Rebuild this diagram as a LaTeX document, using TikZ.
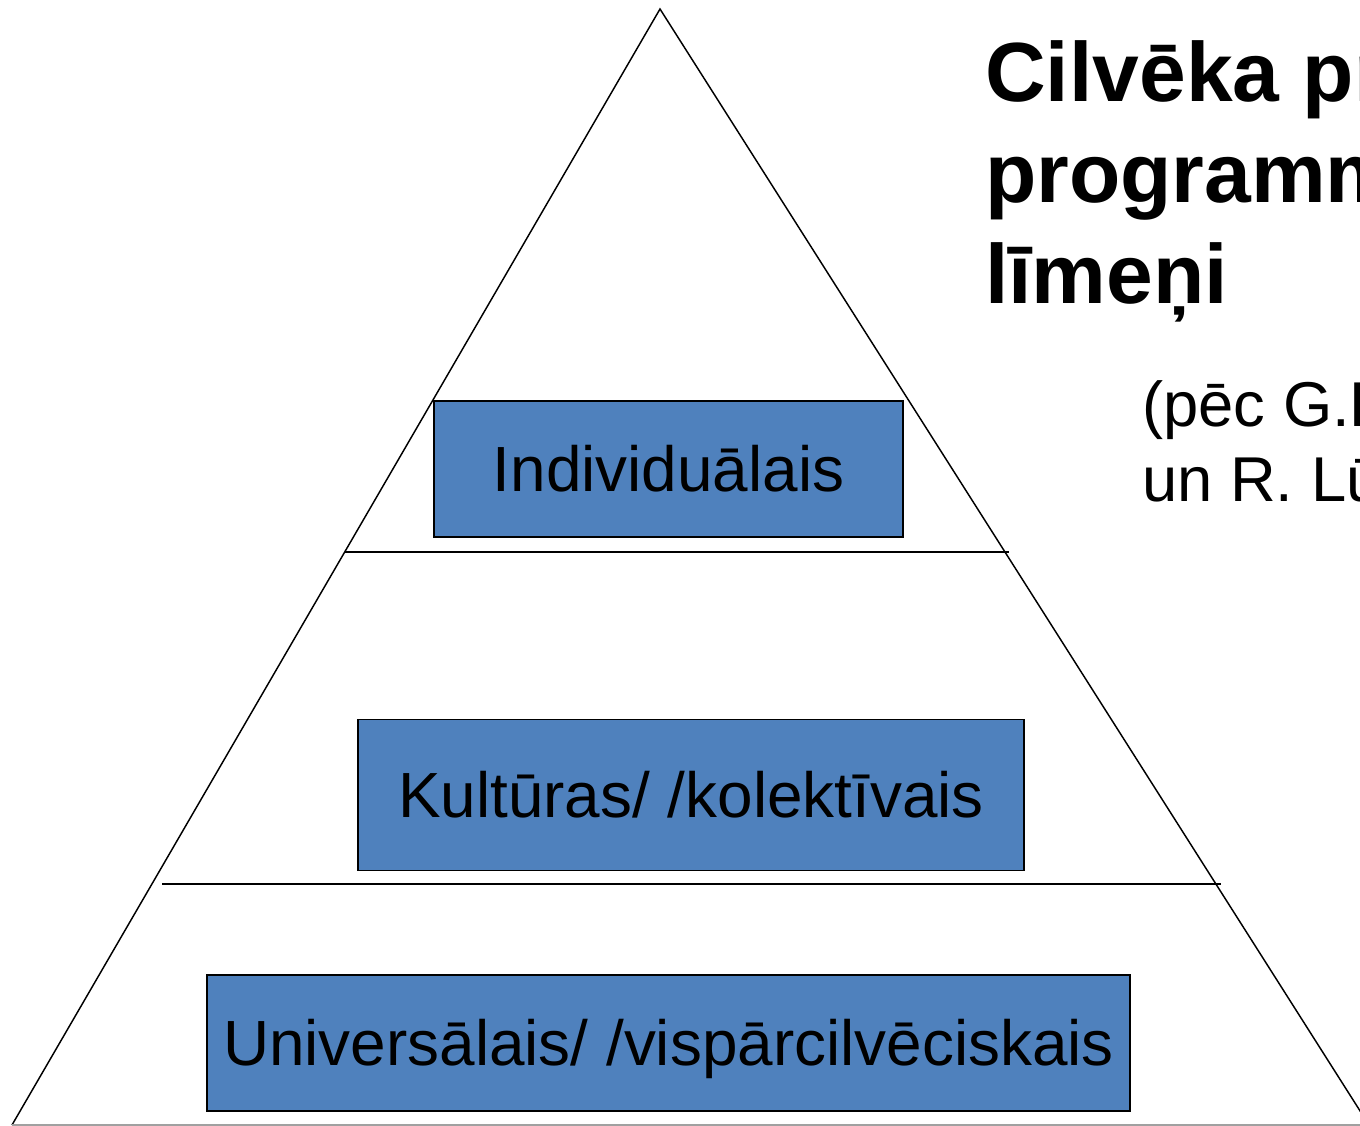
\documentclass[tikz,border=0pt]{standalone}
\usepackage{fontspec}
\setmainfont{Liberation Sans}
\definecolor{boxblue}{HTML}{4F81BD}
\definecolor{baseg}{HTML}{A0A0A0}
\tikzset{
  edge/.style={draw=black, line width=1.1pt},
  level/.style={draw=black, line width=1.1pt, fill=boxblue, inner sep=0pt,
    font=\fontsize{47.9pt}{57pt}\selectfont, text height=34.3pt, text depth=0pt},
  titleline/.style={anchor=base west, inner sep=0pt,
    font=\fontsize{63pt}{75pt}\selectfont\bfseries},
  subline/.style={anchor=base west, inner sep=0pt,
    font=\fontsize{47.5pt}{56pt}\selectfont}
}
\begin{document}
\begin{tikzpicture}[x=0.75pt, y=-0.75pt]
\useasboundingbox (0,0) rectangle (1360,1126);
\clip (0,0) rectangle (1360,1126);
% triangle
\coordinate (apex) at (660,9);
\coordinate (bl) at (12,1125);
\coordinate (br) at (1369,1125);
\draw[edge] (bl) -- (apex) -- (br);
\draw[draw=baseg, line width=1.1pt] (bl) -- (br);
% dividers
\coordinate (d1l) at (345,552);
\coordinate (d1r) at (1009,552);
\coordinate (d2l) at (162,884);
\coordinate (d2r) at (1221,884);
\draw[edge] (d1l) -- (d1r);
\draw[edge] (d2l) -- (d2r);
% levels
\node[level, minimum width=351.75pt, minimum height=102pt] (ind) at (668.5,469) {Individuālais};
\node[level, minimum width=499.5pt, minimum height=113.25pt] (kul) at (691,795) {Kultūras/ /kolektīvais};
\node[level, minimum width=692.25pt, minimum height=102pt] (uni) at (668.5,1043) {Universālais/ /vispārcilvēciskais};
% title
\node[titleline] (t1) at (985,102) {Cilvēka prāta};
\node[titleline] (t2) at (985,203) {programmēšanas};
\node[titleline] (t3) at (985,304) {līmeņi};
% source
\node[subline] (s1) at (1142,427) {(pēc G.Hofstedes};
\node[subline] (s2) at (1142,502) {un R. Lūisa)};
\end{tikzpicture}
\end{document}
